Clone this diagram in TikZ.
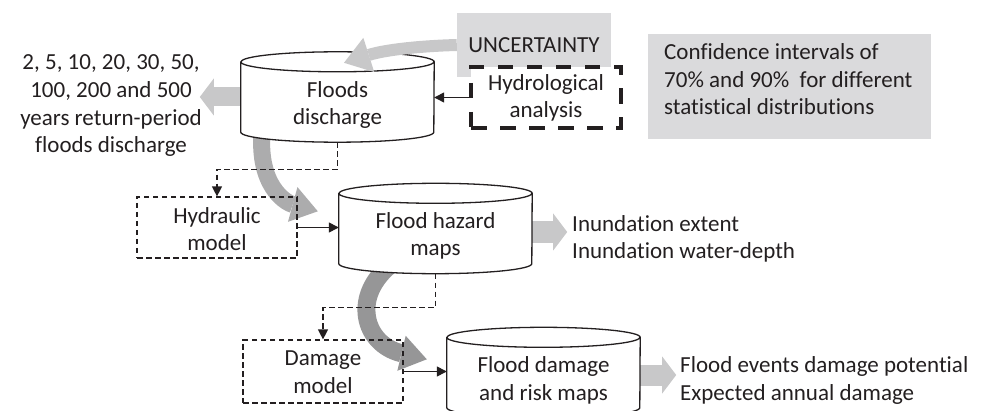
\documentclass[tikz,border=0pt]{standalone}
\usepackage{fontspec}
\setmainfont{Carlito}[Ligatures={NoCommon}]
\usetikzlibrary{arrows.meta,backgrounds}

\definecolor{ink}{RGB}{35,31,32}
\definecolor{panel}{RGB}{218,218,220}
\definecolor{flowlight}{RGB}{200,200,201}
\definecolor{flowmid}{RGB}{172,172,173}
\definecolor{flowdark}{RGB}{150,150,151}

% outline of a vertical drum (storage) around an empty named node
\newcommand\drumoutline[1]{%
  \path[fill=white] ([yshift=-10pt]#1.north west) -- ([yshift=10pt]#1.south west)
    arc[start angle=180,end angle=360,x radius=96.5pt,y radius=10pt]
    -- ([yshift=-10pt]#1.north east)
    arc[start angle=0,end angle=180,x radius=96.5pt,y radius=10pt] -- cycle;
  \draw[ink,line width=1.3pt,line join=round] ([yshift=-10pt]#1.north west) -- ([yshift=10pt]#1.south west)
    arc[start angle=180,end angle=360,x radius=96.5pt,y radius=10pt]
    -- ([yshift=-10pt]#1.north east)
    arc[start angle=0,end angle=180,x radius=96.5pt,y radius=10pt] -- cycle
    ([yshift=-10pt]#1.north west)
    arc[start angle=180,end angle=360,x radius=96.5pt,y radius=10pt];
}

\begin{document}
\begin{tikzpicture}[x=1pt,y=1pt,
  every node/.style={font=\fontsize{23}{27.7}\selectfont,text=ink},
  txt/.style={inner sep=0pt,align=center},
  txtleft/.style={inner sep=0pt,align=left},
  drum/.style={minimum width=193pt,minimum height=90pt,inner sep=0pt,draw=none},
  modelbox/.style={draw=ink,line width=1.2pt,dash pattern=on 5.5pt off 3.5pt,
    minimum width=160pt,minimum height=61pt,inner sep=0pt},
  panelbox/.style={fill=panel,inner sep=0pt},
  link/.style={draw=ink,line width=1.3pt,-{Triangle[length=10pt,width=10pt]}},
  dashlink/.style={link,dash pattern=on 5.5pt off 3.5pt},
  widehead/.style={-{Triangle[width=37pt,length=14pt,line width=0pt]}},
  bighead/.style={-{Triangle[width=36pt,length=26pt,line width=0pt]}}
]
\useasboundingbox (0,0) rectangle (988,410);

% grey panels
\node[panelbox,minimum width=154pt,minimum height=64pt] (unc) at (534,365) {UNCERTAINTY};
\node[panelbox,minimum width=283pt,minimum height=105pt] (ci) at (789.5,323.5) {};

% drums
\node[drum] (fd) at (337.5,313) {};
\node[drum] (hz) at (435.5,181.5) {};
\node[drum] (dm) at (543.5,37.5) {};

% model boxes
\node[modelbox] (hyd) at (217,182.5) {};
\node[modelbox,minimum height=63pt] (dmg) at (323,38.5) {};

% broad grey flows, beneath everything else
\begin{pgfonlayer}{background}
  \draw[flowmid,line width=17pt,bighead]
    ([shift={(-75.5,10)}]fd.south) .. controls +(-4,-53) and +(-33,9) .. ([shift={(-21,-28)}]hz.north west);
  \draw[flowdark,line width=18pt,bighead]
    ([shift={(-42.5,11)}]hz.south) .. controls +(-43,-33) and +(-63,15) .. ([shift={(-20,-32)}]dm.north west);
  \draw[flowlight,line width=19pt,widehead] (fd.west) -- ++(-41,0);
  \draw[flowlight,line width=22pt,widehead] ([yshift=-3.5pt]hz.east) -- ++(35,0);
  \draw[flowlight,line width=21pt,widehead] ([yshift=-2.5pt]dm.east) -- ++(36,0);
\end{pgfonlayer}

\drumoutline{fd}
\drumoutline{hz}
\drumoutline{dm}

% hydrological analysis box over the uncertainty panel
\node[draw=ink,fill=white,line width=4pt,dash pattern=on 15.5pt off 13.5pt,
  minimum width=150pt,minimum height=61pt,inner sep=0pt] (hyan) at (546,312.5) {};

% uncertainty feeding the discharge estimate
\draw[flowlight,line width=12pt,bighead]
  (unc.west) .. controls +(-37,-1) and +(41,13) .. ([shift={(6.5,-11)}]fd.north);

% connectors
\draw[link] (hyan.west) -- (hyan.west -| fd.east);
\draw[link] (hyd.east) -- (hyd.east -| hz.west);
\draw[link] (dmg.east) -- (dmg.east -| dm.west);
\draw[dashlink] (fd.south) -- ++(0,-27) -| (hyd.north);
\draw[dashlink] (hz.south) -- ++(0,-34) -| (dmg.north);

% texts (anchored on the baseline of their last line)
\node[txt,anchor=base] (rp-txt) at (111,257)
  {2, 5, 10, 20, 30, 50,\\100, 200 and 500\\years return-period\\floods discharge};
\node[txt,anchor=base] (fd-txt) at (337.5,285) {Floods\\discharge};
\node[txt,anchor=base] (hyan-txt) at (546,292) {Hydrological\\analysis};
\node[txtleft,anchor=base west] (ci-txt) at (664,295)
  {Confidence intervals of\\70\% and 90\%\ \ for different\\statistical distributions};
\node[txt,anchor=base] (hz-txt) at (435.5,154) {Flood hazard\\maps};
\node[txt,anchor=base] (hyd-txt) at (217,159) {Hydraulic\\model};
\node[txtleft,anchor=base west] (hz-out) at (572,151)
  {Inundation extent\\Inundation water-depth};
\node[txt,anchor=base] (dmg-txt) at (323,17) {Damage\\model};
\node[txt,anchor=base] (dm-txt) at (543.5,10) {Flood damage\\and risk maps};
\node[txtleft,anchor=base west] (dm-out) at (680,10)
  {Flood events damage potential\\Expected annual damage};
\end{tikzpicture}
\end{document}
